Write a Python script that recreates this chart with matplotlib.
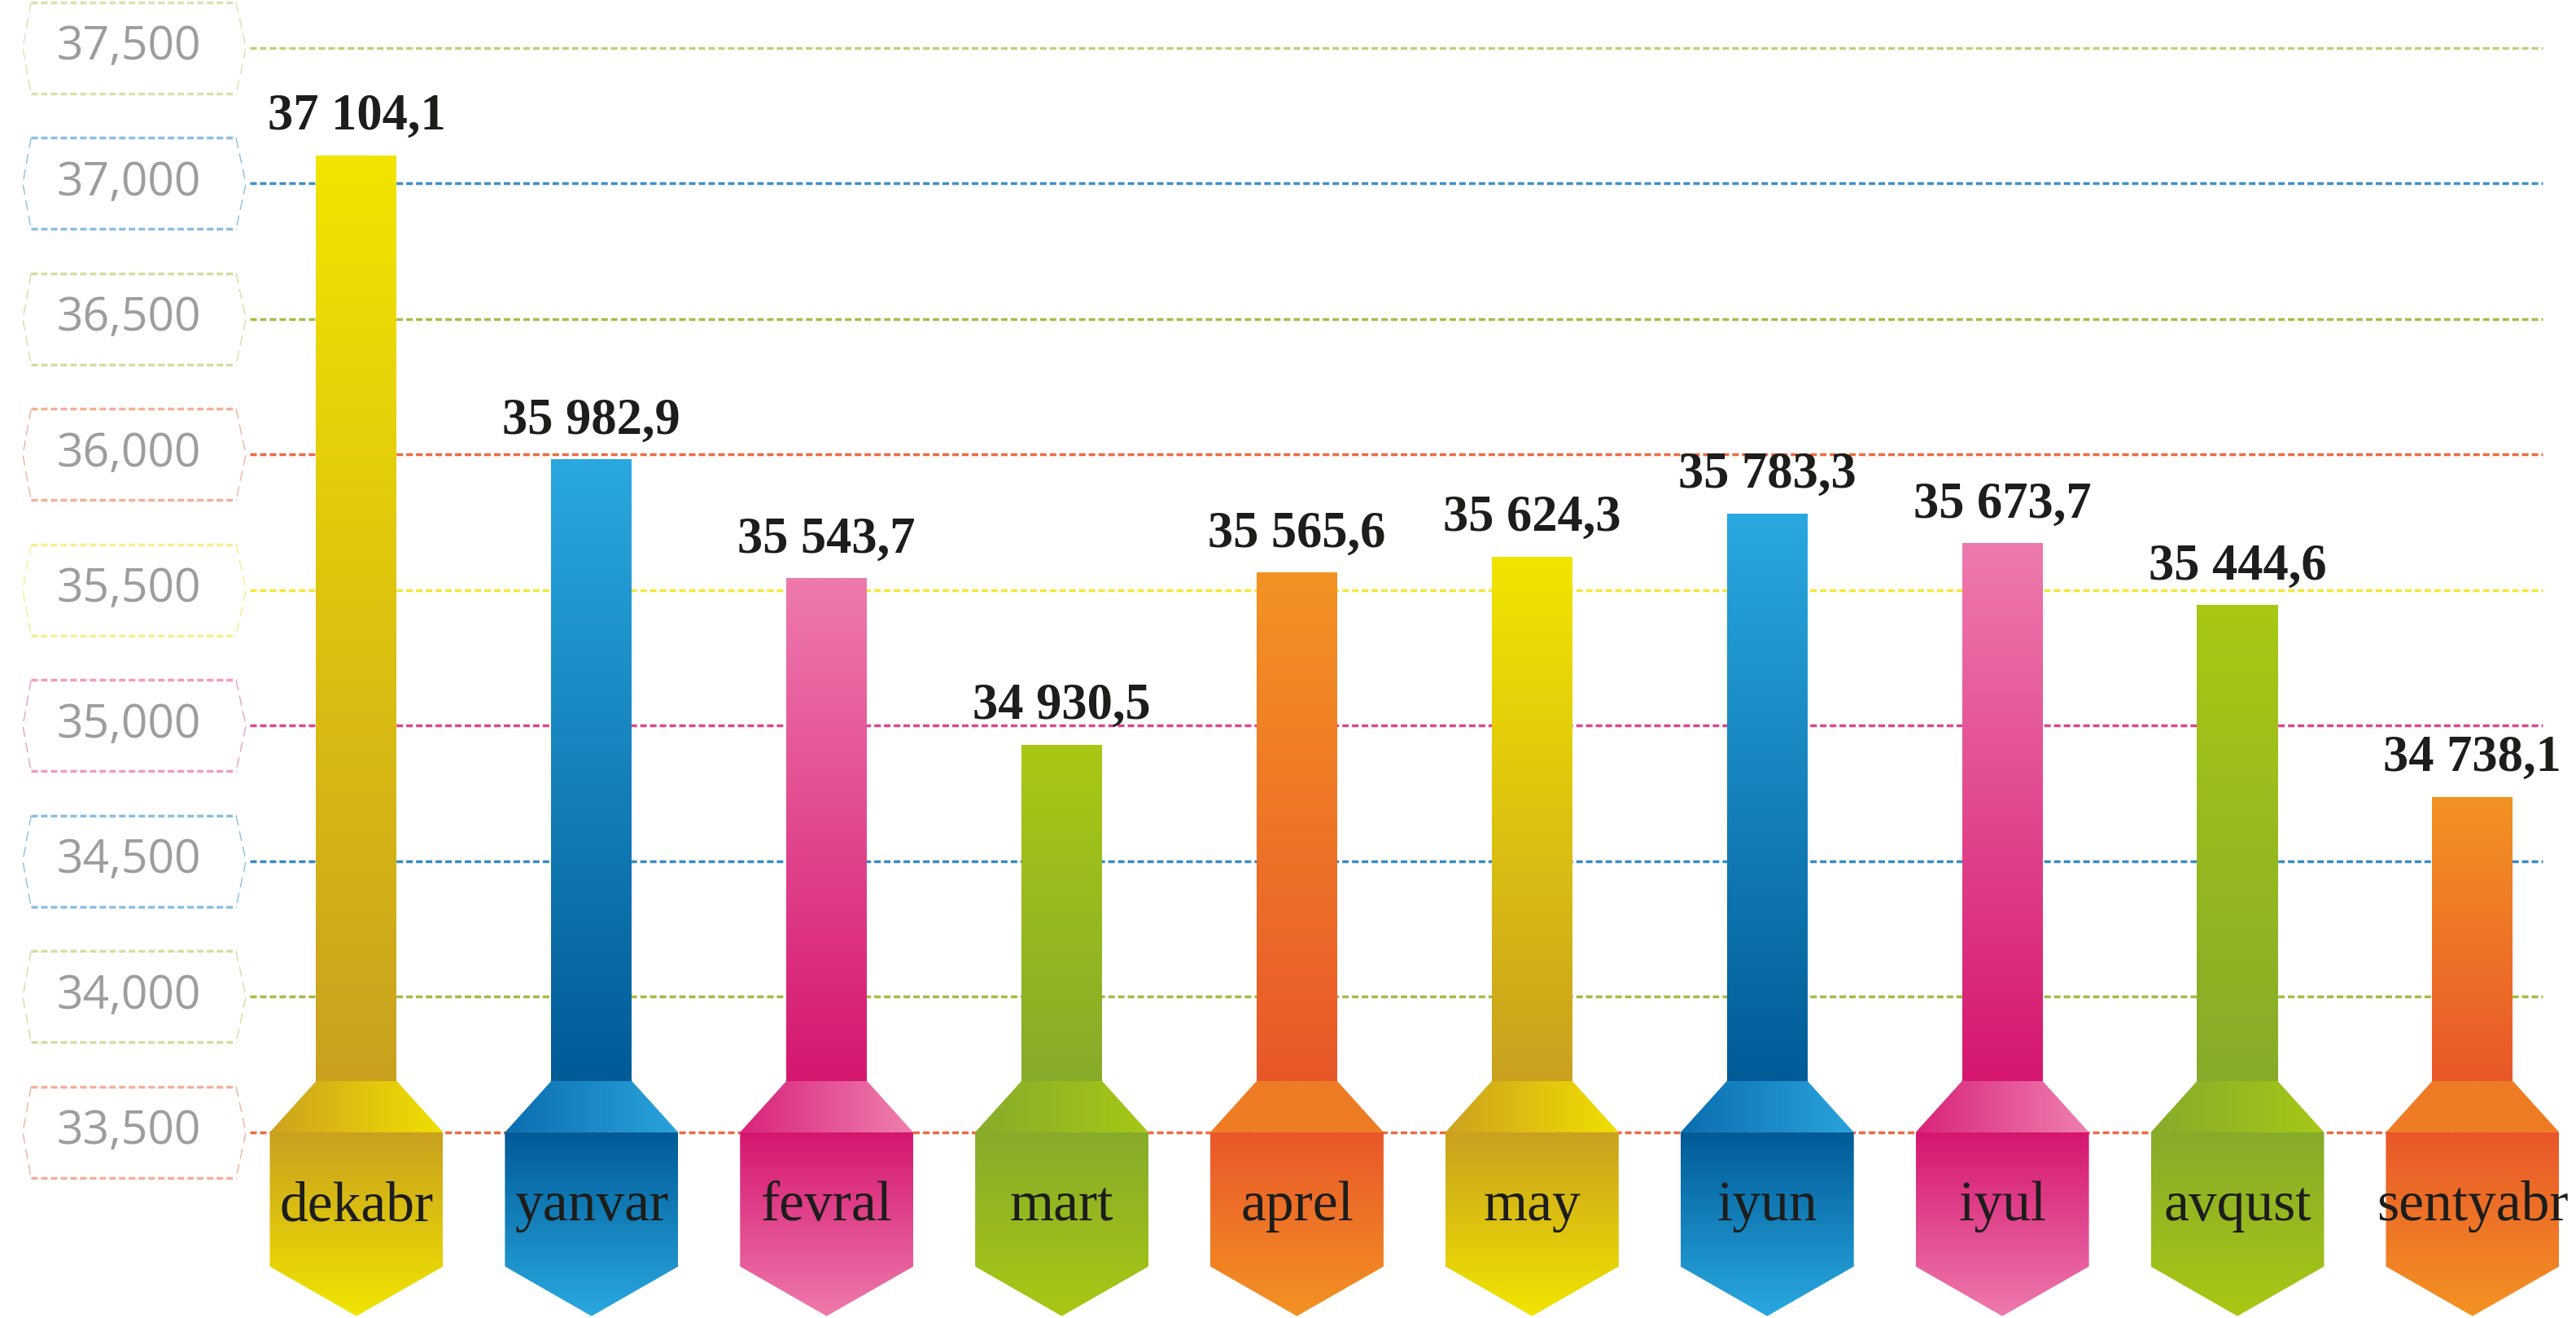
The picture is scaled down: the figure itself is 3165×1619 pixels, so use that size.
import numpy as np
import matplotlib.pyplot as plt
from matplotlib.colors import to_rgb
from matplotlib.patches import Polygon

# data
months = ['dekabr', 'yanvar', 'fevral', 'mart', 'aprel',
          'may', 'iyun', 'iyul', 'avqust', 'sentyabr']
values = [37104.1, 35982.9, 35543.7, 34930.5, 35565.6,
          35624.3, 35783.3, 35673.7, 35444.6, 34738.1]
value_labels = ['37 104,1', '35 982,9', '35 543,7', '34 930,5', '35 565,6',
                '35 624,3', '35 783,3', '35 673,7', '35 444,6', '34 738,1']
ticks = [33500, 34000, 34500, 35000, 35500, 36000, 36500, 37000, 37500]
tick_labels = ['33,500', '34,000', '34,500', '35,000', '35,500',
               '36,000', '36,500', '37,000', '37,500']

# colours: (light, dark, shoulder left, shoulder right)
palette = {
    'yellow': ('#f1e500', '#c9a11f', '#cda21f', '#f0e000'),
    'blue':   ('#2aa8e0', '#005b97', '#0b6eb0', '#2aa3dc'),
    'pink':   ('#ee7aad', '#d5166f', '#d8237a', '#ef80b0'),
    'green':  ('#a9c814', '#86ab2a', '#86ab2a', '#a6c816'),
    'orange': ('#f39323', '#e9572a', '#ee7c24', '#ee7c24'),
}
bar_colors = ['yellow', 'blue', 'pink', 'green', 'orange'] * 2
# gridline colour / box colour, bottom to top
grid_colors = ['#ec6a40', '#a0bd44', '#378cc6', '#e0448f', '#f4e83a',
               '#ec6a40', '#a2bf48', '#3e8fc8', '#bdd27e']
box_colors = ['#f4b09a', '#cfe0a0', '#8bbfe2', '#f09cc4', '#f6ee90',
              '#f4b09a', '#cfe0a0', '#8bbfe2', '#d5e4ae']

BASE = 33500
SHOULDER = 33689
BOX_BOTTOM = 33005
TIP = 32822
BAR_W = 0.343
HEX_W = 0.737

serif = 'Liberation Serif'
ink = '#1d1d1b'


def gradient(ax, verts, c0, c1, vertical=True):
    """Fill polygon verts with a linear gradient c0 -> c1
    (top -> bottom if vertical, left -> right otherwise)."""
    verts = np.asarray(verts)
    x0, x1 = verts[:, 0].min(), verts[:, 0].max()
    y0, y1 = verts[:, 1].min(), verts[:, 1].max()
    t = np.linspace(0, 1, 256)
    a, b = np.array(to_rgb(c0)), np.array(to_rgb(c1))
    cols = a[None, :] * (1 - t[:, None]) + b[None, :] * t[:, None]
    if vertical:
        img = cols[:, None, :]          # row 0 at top
    else:
        img = cols[None, :, :]
    poly = Polygon(verts, closed=True, facecolor='none', edgecolor='none')
    ax.add_patch(poly)
    im = ax.imshow(img, extent=(x0, x1, y0, y1), origin='upper',
                   aspect='auto', interpolation='bilinear', zorder=3)
    im.set_clip_path(poly)


fig = plt.figure(figsize=(31.65, 16.19), dpi=100)
ax = fig.add_axes([0, 0, 1, 1])
ax.axis('off')

x = np.arange(len(months))

# gridlines and the dashed hexagon tick boxes
for tick, lab, gc, bc in zip(ticks, tick_labels, grid_colors, box_colors):
    ax.plot([-0.453, 9.297], [tick, tick], color=gc, lw=2.5,
            dashes=(2.3, 1.15), solid_capstyle='butt', zorder=1)
    top, bot = tick + 168, tick - 168
    for yy in (top, bot):
        ax.plot([-1.384, -0.512], [yy, yy], color=bc, lw=2.5,
                dashes=(2.3, 1.15), zorder=1)
    ax.plot([-1.384, -1.419, -1.384], [top, tick, bot], color=bc, lw=1.0,
            dashes=(9, 5), zorder=1)
    ax.plot([-0.512, -0.470, -0.512], [top, tick, bot], color=bc, lw=1.0,
            dashes=(9, 5), zorder=1)
    ax.text(-0.969, tick, lab, ha='center', va='center', fontsize=41,
            family='Open Sans', color='#9d9d9c')

# bars with shoulder and pointed label box
for xi, val, vlab, month, cname in zip(x, values, value_labels, months, bar_colors):
    light, dark, sl, sr = palette[cname]
    hb, hh = BAR_W / 2, HEX_W / 2
    gradient(ax, [(xi - hb, SHOULDER), (xi + hb, SHOULDER),
                  (xi + hb, val), (xi - hb, val)], light, dark)
    gradient(ax, [(xi - hb, SHOULDER), (xi + hb, SHOULDER),
                  (xi + hh, BASE), (xi - hh, BASE)], sl, sr, vertical=False)
    gradient(ax, [(xi - hh, BASE), (xi + hh, BASE), (xi + hh, BOX_BOTTOM),
                  (xi, TIP), (xi - hh, BOX_BOTTOM)], dark, light)
    ax.text(xi, 33225, month, ha='center', va='center', fontsize=50,
            family=serif, color=ink, zorder=5)
    ax.text(xi, val + 95, vlab, ha='center', va='baseline', fontsize=45,
            family=serif, fontweight='bold', color=ink, zorder=5)

ax.set_xlim(-1.516, 9.44)
ax.set_ylim(32815, 37677)

fig.savefig('out.png', dpi=100)
